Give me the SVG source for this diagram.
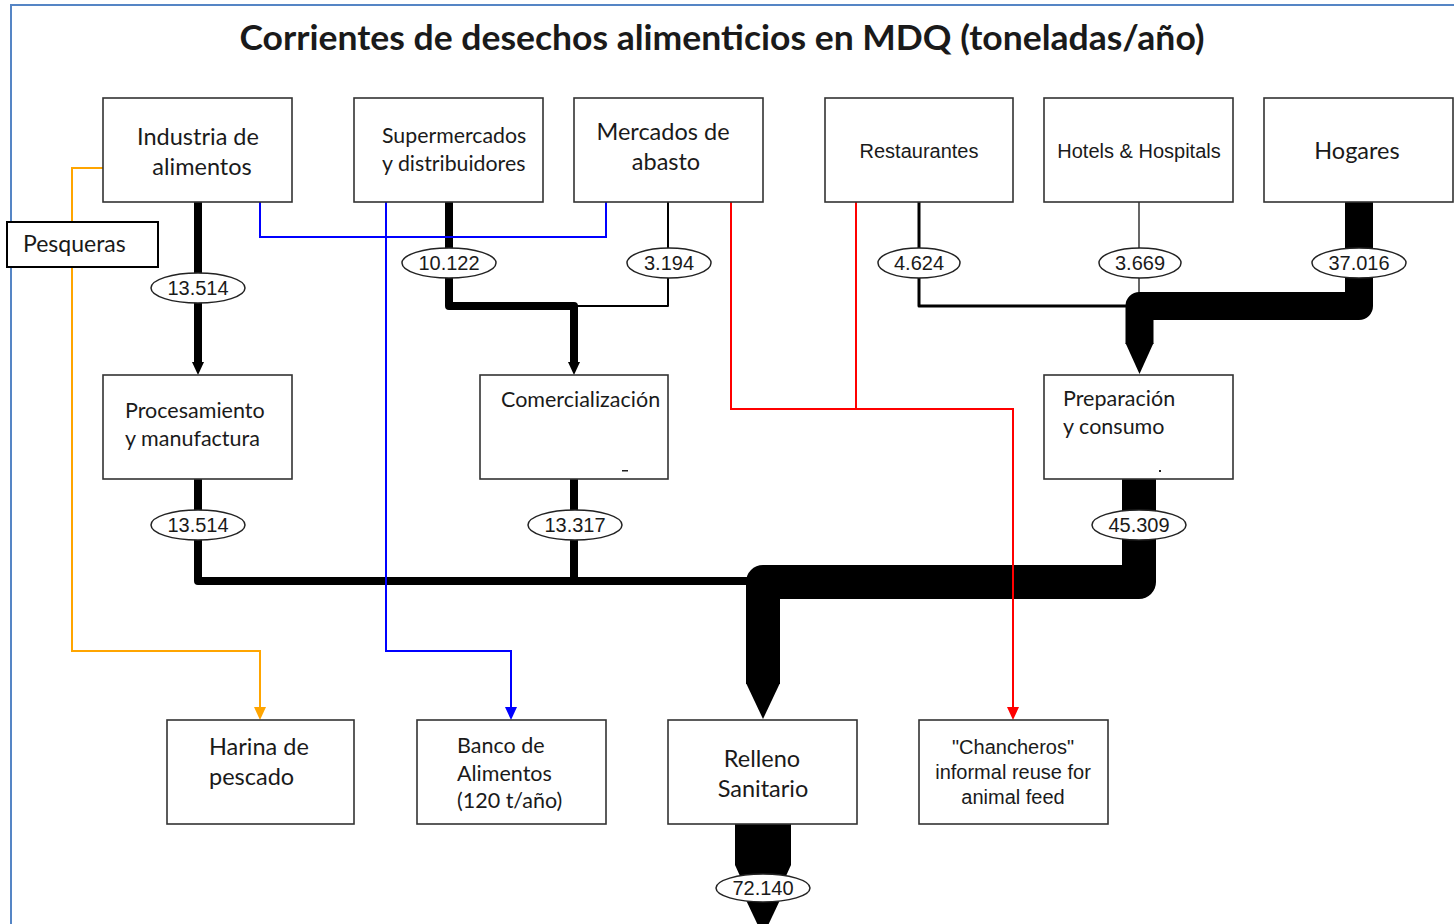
<svg xmlns="http://www.w3.org/2000/svg" width="1454" height="924" viewBox="0 0 1454 924">
<style>
.box{fill:#fff;stroke:#333;stroke-width:1.6}
.cal{font-family:Lato,"Open Sans","Liberation Sans",sans-serif;fill:#1a1a1a}
.ar{font-family:"Liberation Sans",Arial,sans-serif;fill:#1a1a1a}
.lbl{fill:#fff;stroke:#222;stroke-width:1.5}
.num{font-family:"Liberation Sans",Arial,sans-serif;font-size:20px;fill:#1a1a1a;text-anchor:middle}
.flow{fill:none;stroke:#000;stroke-linejoin:round}
</style>
<rect x="0" y="0" width="1454" height="924" fill="#fff"/>
<path d="M11,924 V5 H1454" fill="none" stroke="#5585c5" stroke-width="2"/>
<text x="722" y="50" text-anchor="middle" class="cal" font-weight="bold" font-size="35" textLength="965" lengthAdjust="spacingAndGlyphs">Corrientes de desechos alimenticios en MDQ (toneladas/año)</text>

<g id="connectors">
<path class="flow" d="M198,202 V363" stroke-width="8"/>
<path d="M192,362 L204,362 L198,375 Z" fill="#000"/>
<path class="flow" d="M449,202 V306 H574 V363" stroke-width="8"/>
<path d="M568,362 L580,362 L574,375 Z" fill="#000"/>
<path class="flow" d="M668,202 V306 H574" stroke-width="2"/>
<path class="flow" d="M919,202 V306 H1130" stroke-width="3"/>
<path class="flow" d="M1139,202 V300" stroke-width="1.2"/>
<path class="flow" d="M1359,202 V306 H1139.5 V344" stroke-width="28"/>
<path d="M1125.5,343 L1153.5,343 L1139.5,374 Z" fill="#000"/>
<path class="flow" d="M198,479 V581 H750" stroke-width="8"/>
<path class="flow" d="M574,479 V581" stroke-width="8"/>
<path class="flow" d="M1139,479 V582 H763 V684" stroke-width="34"/>
<path d="M746,683 L780,683 L763,719 Z" fill="#000"/>
<path d="M735,824 H791 V865 L786,876 H740 L735,865 Z" fill="#000"/>
<path d="M745,898 H781 L763,936 Z" fill="#000"/>
<path d="M103,168 H72 V651 H260 V708" fill="none" stroke="#ffa500" stroke-width="2"/>
<path d="M254,707 L266,707 L260,720 Z" fill="#ffa500"/>
<path d="M260,202 V237 H606 V202" fill="none" stroke="#0000ff" stroke-width="2"/>
<path d="M386,202 V651 H511 V708" fill="none" stroke="#0000ff" stroke-width="2"/>
<path d="M505,707 L517,707 L511,720 Z" fill="#0000ff"/>
<path d="M731,202 V409 H1013 V708" fill="none" stroke="#ff0000" stroke-width="2"/>
<path d="M856,202 V409" fill="none" stroke="#ff0000" stroke-width="2"/>
<path d="M1007,707 L1019,707 L1013,720 Z" fill="#ff0000"/>
</g>

<g id="labels">
<ellipse class="lbl" cx="198" cy="288" rx="47" ry="15"/><text class="num" x="198" y="295">13.514</text>
<ellipse class="lbl" cx="449" cy="263" rx="47" ry="15"/><text class="num" x="449" y="270">10.122</text>
<ellipse class="lbl" cx="669" cy="263" rx="42" ry="15"/><text class="num" x="669" y="270">3.194</text>
<ellipse class="lbl" cx="919" cy="263" rx="41" ry="15"/><text class="num" x="919" y="270">4.624</text>
<ellipse class="lbl" cx="1140" cy="263" rx="41" ry="15"/><text class="num" x="1140" y="270">3.669</text>
<ellipse class="lbl" cx="1359" cy="263" rx="47" ry="15"/><text class="num" x="1359" y="270">37.016</text>
<ellipse class="lbl" cx="198" cy="525" rx="47" ry="15"/><text class="num" x="198" y="532">13.514</text>
<ellipse class="lbl" cx="575" cy="525" rx="47" ry="15"/><text class="num" x="575" y="532">13.317</text>
<ellipse class="lbl" cx="1139" cy="525" rx="47" ry="15"/><text class="num" x="1139" y="532">45.309</text>
<ellipse class="lbl" cx="763" cy="888" rx="47" ry="14"/><text class="num" x="763" y="895">72.140</text>
</g>

<g id="industria"><rect class="box" x="103" y="98" width="189" height="104"/>
<text class="cal" font-size="23.5" text-anchor="middle"><tspan x="198" y="145">Industria de</tspan><tspan x="202" y="175">alimentos</tspan></text></g>
<g id="supermercados"><rect class="box" x="354" y="98" width="189" height="104"/>
<text class="cal" font-size="21.3"><tspan x="382" y="143">Supermercados</tspan><tspan x="382" y="171">y distribuidores</tspan></text></g>
<g id="mercados"><rect class="box" x="574" y="98" width="189" height="104"/>
<text class="cal" font-size="23.5" text-anchor="middle"><tspan x="663" y="140">Mercados de</tspan><tspan x="666" y="170">abasto</tspan></text></g>
<g id="restaurantes"><rect class="box" x="825" y="98" width="188" height="104"/>
<text class="ar" font-size="20" text-anchor="middle" x="919" y="158">Restaurantes</text></g>
<g id="hotels"><rect class="box" x="1044" y="98" width="189" height="104"/>
<text class="ar" font-size="20" text-anchor="middle" x="1139" y="158">Hotels &amp; Hospitals</text></g>
<g id="hogares"><rect class="box" x="1264" y="98" width="189" height="104"/>
<text class="cal" font-size="23.5" text-anchor="middle" x="1357" y="159">Hogares</text></g>
<g id="pesqueras"><rect x="7" y="222" width="151" height="45" fill="#fff" stroke="#000" stroke-width="2"/>
<text class="cal" font-size="23" x="23" y="252">Pesqueras</text></g>

<g id="procesamiento"><rect class="box" x="103" y="375" width="189" height="104"/>
<text class="cal" font-size="21.5"><tspan x="125" y="418">Procesamiento</tspan><tspan x="125" y="446">y manufactura</tspan></text></g>
<g id="comercializacion"><rect class="box" x="480" y="375" width="188" height="104"/>
<text class="cal" font-size="21.5" x="501" y="407">Comercialización</text>
<rect x="622" y="470" width="6" height="1.5" fill="#222"/></g>
<g id="preparacion"><rect class="box" x="1044" y="375" width="189" height="104"/>
<text class="cal" font-size="21.5"><tspan x="1063" y="406">Preparación</tspan><tspan x="1063" y="434">y consumo</tspan></text>
<rect x="1159" y="470" width="2" height="2" fill="#222"/></g>

<g id="harina"><rect class="box" x="167" y="720" width="187" height="104"/>
<text class="cal" font-size="23.5"><tspan x="209" y="755">Harina de</tspan><tspan x="209" y="785">pescado</tspan></text></g>
<g id="banco"><rect class="box" x="417" y="720" width="189" height="104"/>
<text class="cal" font-size="21.5"><tspan x="457" y="753">Banco de</tspan><tspan x="457" y="781">Alimentos</tspan><tspan x="457" y="808">(120 t/año)</tspan></text></g>
<g id="relleno"><rect class="box" x="668" y="720" width="189" height="104"/>
<text class="cal" font-size="23.5" text-anchor="middle"><tspan x="762" y="767">Relleno</tspan><tspan x="763" y="797">Sanitario</tspan></text></g>
<g id="chancheros"><rect class="box" x="919" y="720" width="189" height="104"/>
<text class="ar" font-size="20" text-anchor="middle"><tspan x="1013" y="754">"Chancheros"</tspan><tspan x="1013" y="779">informal reuse for</tspan><tspan x="1013" y="804">animal feed</tspan></text></g>
</svg>
